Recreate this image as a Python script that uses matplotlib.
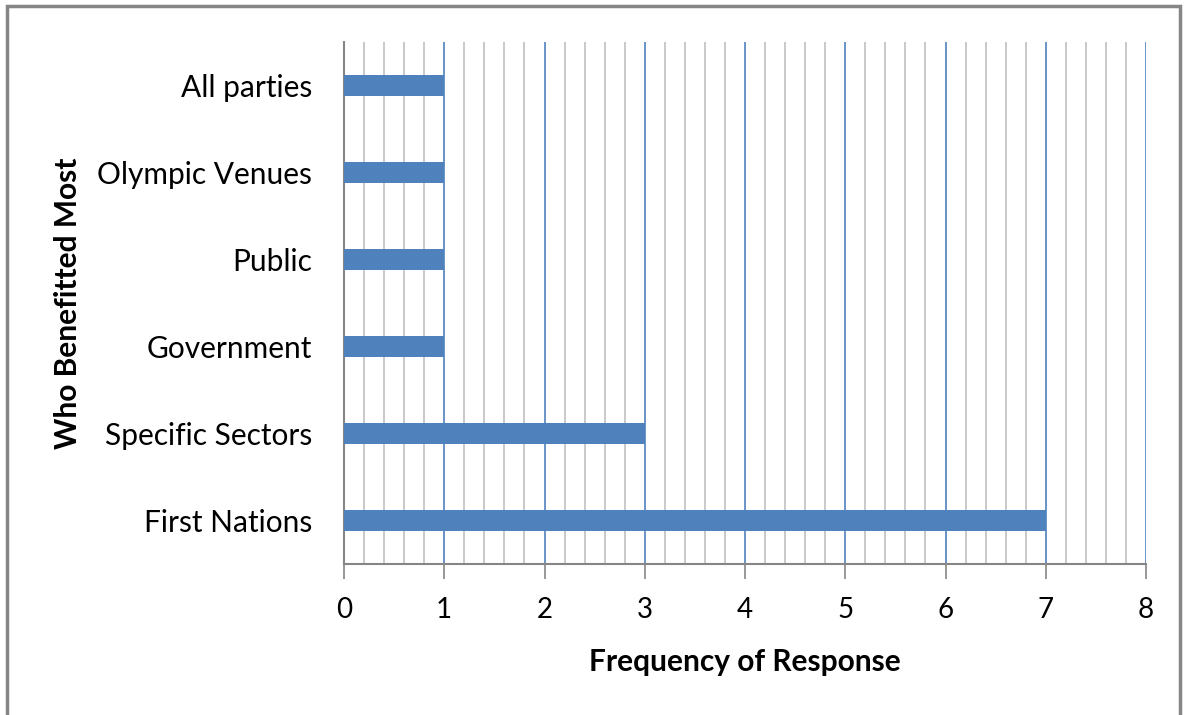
import matplotlib.pyplot as plt
from matplotlib.patches import Rectangle
from matplotlib.ticker import MultipleLocator

categories = ["First Nations", "Specific Sectors", "Government", "Public",
              "Olympic Venues", "All parties"]
counts = [7, 3, 1, 1, 1, 1]

plt.rcParams['font.family'] = ['Lato', 'DejaVu Sans']

fig = plt.figure(figsize=(11.87, 7.15), dpi=100)
ax = fig.add_axes([344 / 1187, 1 - 564 / 715, (1146 - 344) / 1187, (564 - 42) / 715])

# outer chart border
fig.add_artist(Rectangle((7 / 1187, -0.01), (1180 - 7) / 1187, 1 - 6 / 715 + 0.01,
                         transform=fig.transFigure, fill=False,
                         edgecolor='#868686', linewidth=2.5))

ax.barh(range(len(categories)), counts, height=0.23, color='#4F81BD', zorder=3)

ax.set_xlim(0, 8)
ax.set_ylim(-0.5, len(categories) - 0.5)
ax.xaxis.set_major_locator(MultipleLocator(1))
ax.xaxis.set_minor_locator(MultipleLocator(0.2))
ax.grid(which='major', axis='x', color='#4F81BD', linewidth=1.2, zorder=1)
ax.grid(which='minor', axis='x', color='#C0C0C0', linewidth=1.2, zorder=0)
ax.set_axisbelow(True)

ax.set_yticks(range(len(categories)))
ax.set_yticklabels(categories, fontsize=21.5)
ax.tick_params(axis='y', length=0, pad=23)
ax.tick_params(axis='x', which='major', length=11, width=1.2, color='#868686',
               labelsize=20, pad=13)
ax.tick_params(axis='x', which='minor', length=0)

for side in ['top', 'right']:
    ax.spines[side].set_visible(False)
for side in ['left', 'bottom']:
    ax.spines[side].set_color('#868686')
    ax.spines[side].set_linewidth(1.5)

ax.set_xlabel("Frequency of Response", fontsize=21.5, fontweight='bold', labelpad=18)
ax.set_ylabel("Who Benefitted Most", fontsize=21.5, fontweight='bold', labelpad=0)
ax.yaxis.set_label_coords(-262 / 802, 0.5)

fig.savefig("out.png", dpi=100)
